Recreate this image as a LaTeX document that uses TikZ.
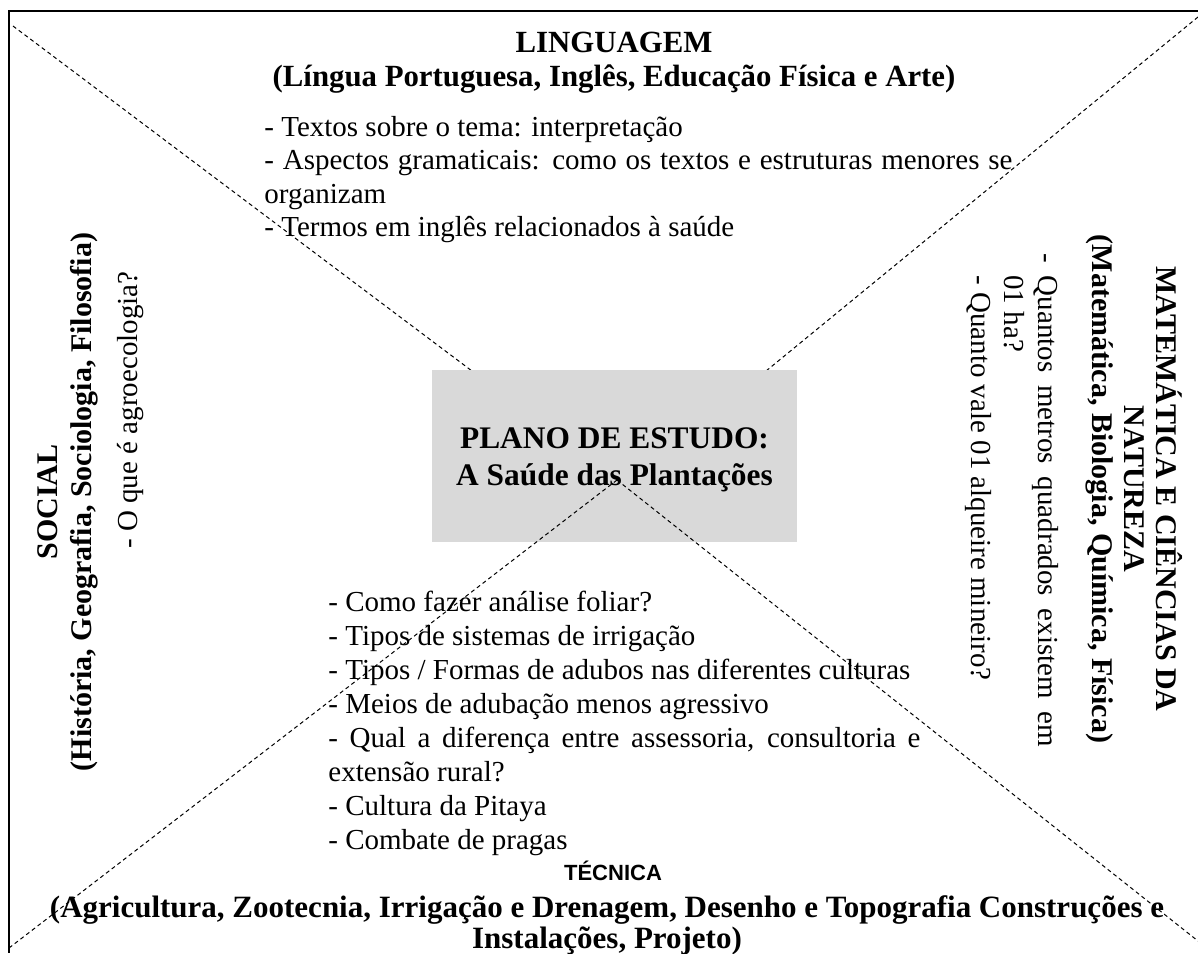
\documentclass[tikz,border=0pt]{standalone}
\usepackage{fontspec}
\setmainfont{Liberation Serif}
\newfontfamily\arialfont{Liberation Sans}
\definecolor{boxgray}{RGB}{217,217,217}
\hyphenpenalty=10000
\exhyphenpenalty=10000
\tikzset{
  frameline/.style={line width=1.4pt},
  diag/.style={line width=0.5pt, dash pattern=on 2pt off 1.6pt},
  hdr/.style={font=\fontsize{15}{17}\selectfont\bfseries, align=center, inner sep=0pt},
  bodytxt/.style={font=\fontsize{14.5}{16.75}\selectfont, inner sep=0pt, align=justify},
  plaintxt/.style={font=\fontsize{14.5}{16.75}\selectfont, inner sep=0pt},
  centerbox/.style={fill=boxgray, draw=none, inner sep=0pt, minimum width=182.5pt, minimum height=86pt}
}
\begin{document}
\begin{tikzpicture}[x=0.5pt,y=-0.5pt]
\useasboundingbox (0,0) rectangle (1198,953);
% frame
\coordinate (FTR) at (1198,11);
\coordinate (FTL) at (9,11);
\coordinate (FBL) at (9,953);
\draw[frameline] (FTR) -- (FTL) -- (FBL);
% diagonals
\coordinate (C) at (617,480);
\coordinate (CR) at (633,480);
\coordinate (TL) at (13,26);
\coordinate (TR) at (1198,17);
\coordinate (BL) at (9,948);
\coordinate (BR) at (1198,941);
\draw[diag] (TL) -- (C);
\draw[diag] (TR) -- (CR);
% central box
\node[centerbox] (plan) at (614.5,456) {};
\node[font=\fontsize{15.7}{18.5}\selectfont\bfseries, align=center, inner sep=0pt, anchor=base] (plantxt) at (614.5,485) {PLANO DE ESTUDO:\\A Saúde das Plantações};
\draw[diag] (C) -- (BL);
\draw[diag] (C) -- (BR);
% LINGUAGEM
\node[hdr, font=\fontsize{15.4}{17}\selectfont\bfseries, anchor=base] (linghead) at (614,86) {LINGUAGEM\\(Língua Portuguesa, Inglês, Educação Física e Arte)};
\node[bodytxt, text width=374pt, anchor=base west] (lingbody) at (264,136) {- Textos sobre o tema: interpretação\par
- Aspectos gramaticais: como os textos e estruturas menores se\linebreak organizam\par
- Termos em inglês relacionados à saúde};
% TECNICA
\node[bodytxt, font=\fontsize{14.5}{17}\selectfont, text width=296pt, anchor=base west] (tecbody) at (328,611) {- Como fazer análise foliar?\par
- Tipos de sistemas de irrigação\par
- Tipos / Formas de adubos nas diferentes culturas\par
- Meios de adubação menos agressivo\par
- Qual a diferença entre assessoria, consultoria e\linebreak extensão rural?\par
- Cultura da Pitaya\par
- Combate de pragas};
\node[font=\fontsize{11}{12}\arialfont\bfseries, inner sep=0pt, anchor=base] (techead) at (613,880) {TÉCNICA};
\node[hdr, font=\fontsize{15.5}{15.5}\selectfont\bfseries, anchor=base] (tecdisc) at (607,948) {(Agricultura, Zootecnia, Irrigação e Drenagem, Desenho e Topografia Construções e\\Instalações, Projeto)};
% MATEMATICA
\node[hdr, font=\fontsize{15}{16}\selectfont\bfseries, rotate=-90, anchor=base] (mathead) at (1092,489) {MATEMÁTICA E CIÊNCIAS DA\\NATUREZA\\(Matemática, Biologia, Química, Física)};
\node[bodytxt, rotate=-90, text width=236pt, anchor=base west] (matbody) at (1038,275) {\hspace*{-11pt}- Quantos metros quadrados existem em\linebreak 01 ha?\par
- Quanto vale 01 alqueire mineiro?};
% SOCIAL
\node[hdr, rotate=90, anchor=base] (sochead) at (91,502) {SOCIAL\\(História, Geografia, Sociologia, Filosofia)};
\node[plaintxt, rotate=90, anchor=base west] (socbody) at (137,549) {- O que é agroecologia?};
\end{tikzpicture}
\end{document}
